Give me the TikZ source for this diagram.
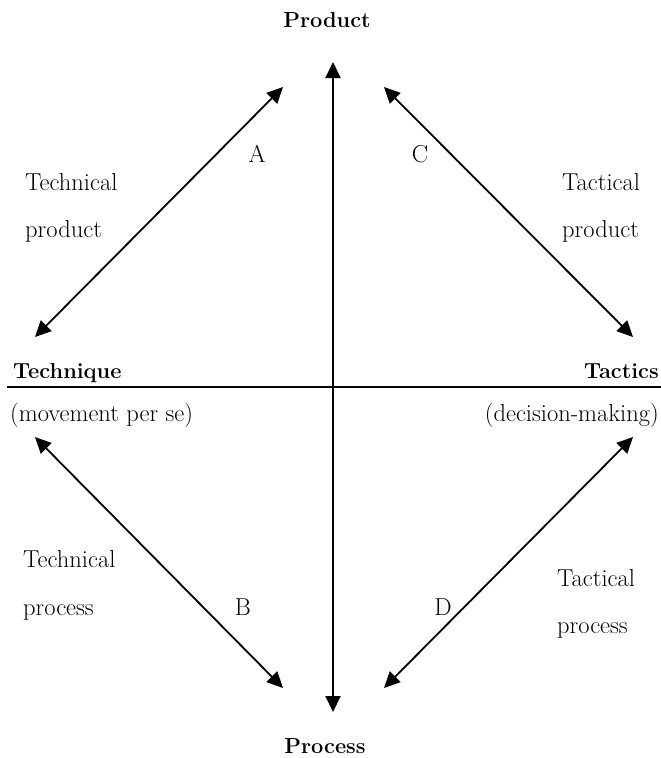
\documentclass[tikz,border=0pt]{standalone}
\usetikzlibrary{arrows.meta}
\begin{document}
\begin{tikzpicture}[x=1pt,y=-1pt,
  lbl/.style={inner sep=0pt, font=\fontsize{24.5}{28}\selectfont},
  hd/.style={inner sep=0pt, font=\fontsize{21.8}{25}\selectfont\bfseries},
  tipA/.tip={Triangle[length=16pt,width=15pt]},
  arr/.style={line width=1.8pt, tipA-tipA}]
\useasboundingbox (0,0) rectangle (661,758);
% end points
\coordinate (vt) at (333,62);
\coordinate (vb) at (333,712);
\coordinate (aT) at (283,87);
\coordinate (aB) at (35,337);
\coordinate (cT) at (384,87);
\coordinate (cB) at (633,337);
\coordinate (bT) at (35,437);
\coordinate (bB) at (283,688);
\coordinate (dT) at (633,437);
\coordinate (dB) at (384,688);
\coordinate (hl) at (7,387);
\coordinate (hr) at (661,387);
% axes
\draw[line width=1.2pt] (hl) -- (hr);
\draw[arr, line width=2pt] (vt) -- (vb);
\draw[arr] (aT) -- (aB);
\draw[arr] (cT) -- (cB);
\draw[arr] (bT) -- (bB);
\draw[arr] (dT) -- (dB);
% headings
\node[hd, anchor=base] (product) at (327,27) {Product};
\node[hd, anchor=base] (process) at (325,753) {Process};
\node[hd, anchor=base west] (technique) at (13,378) {Technique};
\node[hd, anchor=base east] (tactics) at (659,378) {Tactics};
\node[lbl, anchor=base west] (mps) at (10,421) {(movement per se)};
\node[lbl, anchor=base east] (dm) at (659,421) {(decision-making)};
% side labels
\node[lbl, anchor=base west] (tp1) at (25,190) {Technical};
\node[lbl, anchor=base west] (tp2) at (25,237) {product};
\node[lbl, anchor=base west] (tq1) at (23,567) {Technical};
\node[lbl, anchor=base west] (tq2) at (23,615) {process};
\node[lbl, anchor=base west] (cp1) at (562,190) {Tactical};
\node[lbl, anchor=base west] (cp2) at (562,237) {product};
\node[lbl, anchor=base west] (cq1) at (557,586) {Tactical};
\node[lbl, anchor=base west] (cq2) at (557,633) {process};
% letters
\node[lbl, anchor=base] (A) at (257,162) {A};
\node[lbl, anchor=base] (C) at (420,162) {C};
\node[lbl, anchor=base] (B) at (243,615) {B};
\node[lbl, anchor=base] (D) at (443,615) {D};
\end{tikzpicture}
\end{document}
